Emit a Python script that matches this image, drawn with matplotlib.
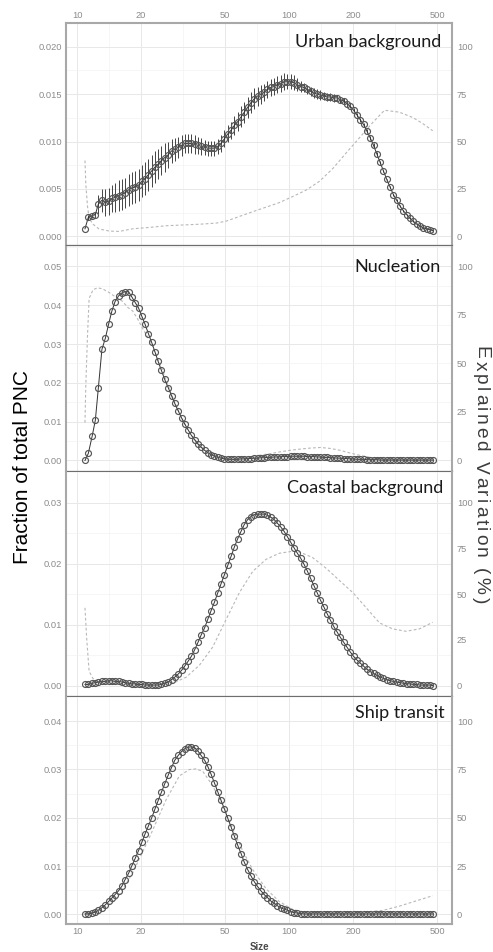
import numpy as np
import matplotlib
matplotlib.use("Agg")
import matplotlib.pyplot as plt
from matplotlib.ticker import FixedLocator, NullFormatter
from matplotlib.font_manager import FontProperties, findfont
from matplotlib.ft2font import FT2Font

# SMPS size bins (nm), 64 channels per decade
sizes = [10.9, 11.3, 11.8, 12.2, 12.6, 13.1, 13.6, 14.1, 14.6, 15.1,
         15.7, 16.3, 16.8, 17.5, 18.1, 18.8, 19.5, 20.2, 20.9, 21.7,
         22.5, 23.3, 24.1, 25.0, 25.9, 26.9, 27.9, 28.9, 30.0, 31.1,
         32.2, 33.4, 34.6, 35.9, 37.2, 38.5, 40.0, 41.4, 42.9, 44.5,
         46.1, 47.8, 49.6, 51.4, 53.3, 55.2, 57.3, 59.4, 61.5, 63.8,
         66.1, 68.5, 71.0, 73.7, 76.4, 79.1, 82.0, 85.1, 88.2, 91.4,
         94.7, 98.2, 101.8, 105.5, 109.4, 113.4, 117.6, 121.9, 126.3, 131.0,
         135.8, 140.7, 145.9, 151.2, 156.8, 162.5, 168.5, 174.7, 181.1, 187.7,
         194.6, 201.7, 209.1, 216.7, 224.7, 232.9, 241.4, 250.3, 259.5, 269.0,
         278.8, 289.0, 299.6, 310.6, 322.0, 333.8, 346.0, 358.7, 371.8, 385.4,
         399.5, 414.2, 429.4, 445.1, 461.4, 478.3]

# fraction of total PNC per factor profile
urban = [0.0008, 0.0020, 0.0022, 0.0023, 0.0034, 0.0038, 0.0036, 0.0037, 0.0040, 0.0041,
         0.0043, 0.0044, 0.0046, 0.0049, 0.0051, 0.0052, 0.0054, 0.0058, 0.0061, 0.0065,
         0.0069, 0.0073, 0.0076, 0.0080, 0.0083, 0.0086, 0.0090, 0.0092, 0.0094, 0.0096,
         0.0098, 0.0098, 0.0098, 0.0097, 0.0096, 0.0095, 0.0094, 0.0093, 0.0093, 0.0093,
         0.0095, 0.0098, 0.0103, 0.0108, 0.0112, 0.0117, 0.0121, 0.0126, 0.0131, 0.0136,
         0.0141, 0.0145, 0.0148, 0.0150, 0.0152, 0.0155, 0.0157, 0.0158, 0.0160, 0.0161,
         0.0163, 0.0163, 0.0163, 0.0162, 0.0160, 0.0158, 0.0157, 0.0155, 0.0153, 0.0151,
         0.0150, 0.0149, 0.0148, 0.0147, 0.0147, 0.0146, 0.0146, 0.0144, 0.0143, 0.0140,
         0.0137, 0.0133, 0.0128, 0.0123, 0.0118, 0.0111, 0.0104, 0.0096, 0.0087, 0.0078,
         0.0069, 0.0060, 0.0052, 0.0044, 0.0038, 0.0032, 0.0027, 0.0023, 0.0019, 0.0016,
         0.0013, 0.0011, 0.0009, 0.0008, 0.0007, 0.0006]

urban_err = [0.0, 0.0003, 0.0003, 0.0003, 0.0010, 0.0012, 0.0014, 0.0014, 0.0014, 0.0015,
             0.0016, 0.0016, 0.0016, 0.0017, 0.0017, 0.0017, 0.0017, 0.0017, 0.0017, 0.0017,
             0.0017, 0.0017, 0.0016, 0.0015, 0.0015, 0.0014, 0.0013, 0.0012, 0.0011, 0.0011,
             0.0010, 0.0010, 0.0010, 0.0010, 0.0009, 0.0009, 0.0008, 0.0008, 0.0008, 0.0008,
             0.0008, 0.0009, 0.0009, 0.0009, 0.0009, 0.0010, 0.0010, 0.0011, 0.0011, 0.0011,
             0.0011, 0.0011, 0.0010, 0.0010, 0.0009, 0.0009, 0.0009, 0.0009, 0.0009, 0.0009,
             0.0009, 0.0008, 0.0008, 0.0008, 0.0007, 0.0006, 0.0005, 0.0005, 0.0005, 0.0005,
             0.0005, 0.0005, 0.0004, 0.0004, 0.0004, 0.0004, 0.0003, 0.0003, 0.0003, 0.0003,
             0.0002, 0.0002, 0.0002, 0.0002, 0.0002, 0.0002, 0.0002, 0.0002, 0.0002, 0.0002,
             0.0001, 0.0001, 0.0001, 0.0001, 0.0001, 0.0001, 0.0001, 0.0001, 0.0001, 0.0001,
             0.0001, 0.0001, 0.0001, 0.0001, 0.0001, 0.0001]

nucleation = [0.0000, 0.0018, 0.0064, 0.0104, 0.0186, 0.0286, 0.0315, 0.0352, 0.0385, 0.0409,
              0.0424, 0.0432, 0.0435, 0.0435, 0.0422, 0.0407, 0.0393, 0.0372, 0.0352, 0.0327,
              0.0304, 0.0280, 0.0256, 0.0232, 0.0209, 0.0188, 0.0167, 0.0147, 0.0128, 0.0110,
              0.0094, 0.0079, 0.0065, 0.0053, 0.0042, 0.0034, 0.0026, 0.0020, 0.0015, 0.0011,
              0.0008, 0.0006, 0.0004, 0.0003, 0.0003, 0.0003, 0.0003, 0.0004, 0.0004, 0.0005,
              0.0005, 0.0006, 0.0006, 0.0007, 0.0007, 0.0008, 0.0008, 0.0009, 0.0009, 0.0010,
              0.0010, 0.0010, 0.0011, 0.0011, 0.0011, 0.0011, 0.0011, 0.0010, 0.0010, 0.0010,
              0.0009, 0.0009, 0.0008, 0.0008, 0.0007, 0.0007, 0.0006, 0.0006, 0.0005, 0.0005,
              0.0004, 0.0004, 0.0003, 0.0003, 0.0003, 0.0002, 0.0002, 0.0002, 0.0002, 0.0001,
              0.0001, 0.0001, 0.0001, 0.0001, 0.0001, 0.0001, 0.0001, 0.0001, 0.0001, 0.0001,
              0.0001, 0.0001, 0.0001, 0.0001, 0.0001, 0.0001]

coastal = [0.0002, 0.0002, 0.0004, 0.0005, 0.0006, 0.0007, 0.0007, 0.0008, 0.0008, 0.0007,
           0.0007, 0.0006, 0.0005, 0.0004, 0.0003, 0.0003, 0.0002, 0.0002, 0.0001, 0.0001,
           0.0001, 0.0001, 0.0001, 0.0002, 0.0004, 0.0006, 0.0010, 0.0014, 0.0019, 0.0025,
           0.0032, 0.0040, 0.0048, 0.0059, 0.0071, 0.0083, 0.0095, 0.0109, 0.0123, 0.0137,
           0.0152, 0.0167, 0.0182, 0.0197, 0.0212, 0.0227, 0.0241, 0.0253, 0.0264, 0.0272,
           0.0277, 0.0280, 0.0281, 0.0281, 0.0281, 0.0279, 0.0276, 0.0272, 0.0266, 0.0260,
           0.0253, 0.0244, 0.0235, 0.0226, 0.0217, 0.0209, 0.0199, 0.0188, 0.0176, 0.0164,
           0.0152, 0.0140, 0.0129, 0.0118, 0.0107, 0.0097, 0.0088, 0.0079, 0.0071, 0.0063,
           0.0055, 0.0048, 0.0042, 0.0037, 0.0032, 0.0027, 0.0023, 0.0020, 0.0017, 0.0014,
           0.0012, 0.0010, 0.0008, 0.0007, 0.0006, 0.0005, 0.0004, 0.0003, 0.0003, 0.0002,
           0.0002, 0.0001, 0.0001, 0.0001, 0.0001, 0.0000]

ship = [0.0001, 0.0001, 0.0003, 0.0005, 0.0009, 0.0014, 0.0020, 0.0027, 0.0034, 0.0041,
        0.0049, 0.0059, 0.0071, 0.0085, 0.0100, 0.0116, 0.0132, 0.0149, 0.0166, 0.0183,
        0.0200, 0.0218, 0.0235, 0.0253, 0.0270, 0.0288, 0.0304, 0.0319, 0.0329, 0.0337,
        0.0343, 0.0346, 0.0347, 0.0345, 0.0338, 0.0329, 0.0319, 0.0306, 0.0290, 0.0272,
        0.0254, 0.0236, 0.0218, 0.0199, 0.0181, 0.0162, 0.0143, 0.0126, 0.0108, 0.0093,
        0.0080, 0.0068, 0.0058, 0.0049, 0.0041, 0.0035, 0.0028, 0.0023, 0.0018, 0.0014,
        0.0011, 0.0009, 0.0006, 0.0004, 0.0003, 0.0002, 0.0001, 0.0001, 0.0001, 0.0001,
        0.0001, 0.0001, 0.0001, 0.0001, 0.0001, 0.0001, 0.0001, 0.0001, 0.0001, 0.0001,
        0.0001, 0.0001, 0.0001, 0.0001, 0.0001, 0.0001, 0.0001, 0.0001, 0.0001, 0.0001,
        0.0001, 0.0001, 0.0001, 0.0001, 0.0001, 0.0001, 0.0001, 0.0001, 0.0001, 0.0001,
        0.0001, 0.0001, 0.0001, 0.0001, 0.0001, 0.0001]

# explained variation (%) curves, right axis
ev_urban_size = [10.9, 11.0, 11.2, 11.4, 11.9, 12.7, 14.2, 15.8, 18.3, 21.9, 26.3, 31.5, 37.8,
                 45.3, 50.4, 58.3, 67.4, 77.9, 90.0, 104, 120, 139, 161, 186, 215, 248,
                 282, 331, 383, 427, 476]
ev_urban = [40, 27.6, 16, 9.6, 6.4, 3.9, 2.8, 2.6, 4.0, 4.7, 5.6, 6.0, 6.4,
            7.0, 8.0, 10.5, 13.0, 15.4, 17.8, 21.0, 24.3, 29.0, 35.8, 44.0, 52.0, 60.0,
            66.5, 65.5, 62.7, 59.5, 55.7]

ev_nucl_size = [10.9, 11.0, 11.2, 11.4, 11.9, 12.5, 13.2, 14.2, 15.3, 16.4,
                17.3, 18.3, 19.3, 20.4, 22.5, 25.0, 27.9, 31.1, 34.6, 38.5,
                42.9, 47.8, 53.3, 59.4, 66.1, 73.7, 82.0, 91.4, 101.8, 113.4,
                126.3, 140.7, 156.8, 174.7, 194.6, 216.7, 241.4, 269.0, 299.6, 333.8,
                371.8, 414.2, 478.3]
ev_nucl = [19.5, 39, 64, 83.5, 88, 89, 88.4, 86.5, 84, 82,
           79, 77, 73, 68, 60, 48, 34, 22, 13, 7,
           3.5, 1.5, 1.0, 1.4, 2.0, 2.8, 3.6, 4.5, 5.3, 5.9,
           6.4, 6.7, 6.2, 5.2, 3.8, 2.6, 1.6, 0.8, 0.5, 0.4,
           0.3, 0.2, 0.2]

ev_coast_size = [10.9, 11.1, 11.4, 11.9, 12.7, 14.2, 15.8, 18.3, 21.9, 26.3,
                 29.3, 32.7, 37.8, 43.6, 50.4, 58.3, 67.4, 77.9, 90.0, 104,
                 112, 129, 150, 173, 200, 231, 267, 308, 356, 412, 476]
ev_coast = [42.5, 26, 7.9, 3.8, 2.1, 1.3, 1.0, 0.6, 0.6, 1.3,
            2.1, 4.6, 11.2, 21, 36, 50.8, 62.4, 69, 72.3, 73.4,
            73, 70, 64, 57.4, 50.8, 42.6, 34.3, 31, 29.7, 31, 34.6]

ev_ship_size = [10.9, 12.7, 15.3, 18.3, 21.9, 26.3, 30.4, 33.9, 36.4, 39.2,
                43.6, 48.7, 54.2, 60.4, 67.4, 77.9, 90.0, 104, 120, 161,
                215, 277, 331, 397, 476]
ev_ship = [0.3, 1.8, 7.6, 21.5, 39.6, 59.3, 71.7, 75, 75.3, 74,
           66.7, 56, 44.5, 33, 23.2, 13.3, 6.7, 2.6, 1.0, 0.5,
           1.0, 2.1, 4.3, 7.0, 9.7]

titles = ["Urban background", "Nucleation", "Coastal background", "Ship transit"]
profiles = [urban, nucleation, coastal, ship]
ev_sizes = [ev_urban_size, ev_nucl_size, ev_coast_size, ev_ship_size]
ev_vals = [ev_urban, ev_nucl, ev_coast, ev_ship]

x_ticks = [10, 20, 50, 100, 200, 500]
x_minor = [14.14, 31.62, 70.71, 141.4, 316.2]
ev_ticks = [0, 25, 50, 75, 100]
y_ticks = [[0.0, 0.005, 0.010, 0.015, 0.020],
           [0.00, 0.01, 0.02, 0.03, 0.04, 0.05],
           [0.00, 0.01, 0.02, 0.03],
           [0.00, 0.01, 0.02, 0.03, 0.04]]
y_fmt = ["{:.3f}", "{:.2f}", "{:.2f}", "{:.2f}"]

# layout (pixels of the 493x952 canvas)
W, H = 493, 952
ax_left, ax_right = 66, 452
rows = [(23, 245), (247, 471), (472, 696), (697, 924)]
ylims = [(-0.00091, 0.02085), (-0.00271, 0.05246), (-0.00169, 0.03159), (-0.00197, 0.0428)]
ev_scale = [0.0002, 0.0005, 0.0003, 0.0004]
title_off = [(-11, -24), (-11, -25.5), (-9, -21), (-7, -21)]

plt.rcParams['font.family'] = ['Liberation Sans', 'DejaVu Sans']
tick_col = "#8c8c8c"
tick_fs = 6.7

fig = plt.figure(figsize=(W / 100, H / 100), dpi=100)

for k in range(4):
    top, bot = rows[k]
    ax = fig.add_axes([ax_left / W, (H - bot) / H, (ax_right - ax_left) / W, (bot - top) / H])
    ax.set_xscale("log")
    ax.set_xlim(8.87, 587)
    ax.set_ylim(*ylims[k])

    f = ev_scale[k]
    ax.plot(ev_sizes[k], np.array(ev_vals[k]) * f, color="#b8b8b8", lw=0.8,
            ls=(0, (2.5, 2)), zorder=2)
    if k == 0:
        ax.errorbar(sizes, urban, yerr=urban_err, fmt="none", ecolor="#262626",
                    elinewidth=0.6, zorder=3)
    ax.plot(sizes, profiles[k], color="#333333", lw=0.7, zorder=4)
    ax.plot(sizes, profiles[k], "o", mfc="none", mec="#555555", ms=4.3, mew=0.85, zorder=5)

    # axes, ticks, grid
    ax.xaxis.set_major_locator(FixedLocator(x_ticks))
    ax.xaxis.set_minor_locator(FixedLocator(x_minor))
    ax.xaxis.set_minor_formatter(NullFormatter())
    ax.set_xticklabels([str(t) for t in x_ticks])
    yt = y_ticks[k]
    ax.set_yticks(yt)
    ax.set_yticklabels([y_fmt[k].format(t) for t in yt])
    step = yt[1] - yt[0]
    ax.set_yticks([t + step / 2 for t in yt[:-1]] + [yt[-1] + step / 2], minor=True)
    ax.grid(True, which="major", color="#e8e8e8", lw=0.7)
    ax.grid(True, which="minor", color="#f3f3f3", lw=0.5)
    ax.set_axisbelow(True)
    ax.tick_params(which="both", length=0)
    ax.tick_params(axis="y", labelsize=tick_fs, labelcolor=tick_col, pad=3.0)
    ax.tick_params(axis="x", labelsize=tick_fs, labelcolor=tick_col, pad=2.5,
                   labeltop=(k == 0), labelbottom=(k == 3))

    for s in ["left", "right", "top", "bottom"]:
        ax.spines[s].set_color("#a8a8a8")
        ax.spines[s].set_linewidth(1.5)
    if k > 0:
        ax.spines["top"].set_visible(False)
    if k < 3:
        ax.spines["bottom"].set_color("#6e6e6e")
        ax.spines["bottom"].set_linewidth(0.9)

    sec = ax.secondary_yaxis("right", functions=(lambda v, f=f: v / f, lambda r, f=f: r * f))
    sec.set_yticks(ev_ticks)
    sec.set_yticklabels([str(t) for t in ev_ticks])
    sec.tick_params(length=0, labelsize=tick_fs, labelcolor=tick_col, pad=3.5)
    sec.spines["right"].set_visible(False)

    ax.annotate(titles[k], xy=(1, 1), xycoords="axes fraction", xytext=title_off[k],
                textcoords="offset pixels", ha="right", va="baseline",
                fontsize=13, family=["Lato", "DejaVu Sans"], color="#1a1a1a")

fig.text(23 / W, 1 - 467 / H, "Fraction of total PNC", rotation=90, ha="center",
         va="center", fontsize=15, color="black")
fig.text(259 / W, 1 - 947 / H, "Size", ha="center", va="center", fontsize=7,
         fontweight="bold", color="#4a4a4a")

# right title: letter-spaced, reading top to bottom
ev_label = "Explained Variation (%)"
ev_fs = 13.8
ft = FT2Font(findfont(FontProperties(family="Liberation Sans")))
ft.set_size(ev_fs, 100)
adv = [ft.load_char(ord(ch)).linearHoriAdvance / 65536 for ch in ev_label]
gap = 2.6
ypos = 346
for ch, a in zip(ev_label, adv):
    fig.text(476 / W, 1 - ypos / H, ch, rotation=270, rotation_mode="anchor",
             ha="left", va="baseline", fontsize=ev_fs, color="#3c3c3c")
    ypos += a + gap

fig.savefig("out.png", dpi=100)
